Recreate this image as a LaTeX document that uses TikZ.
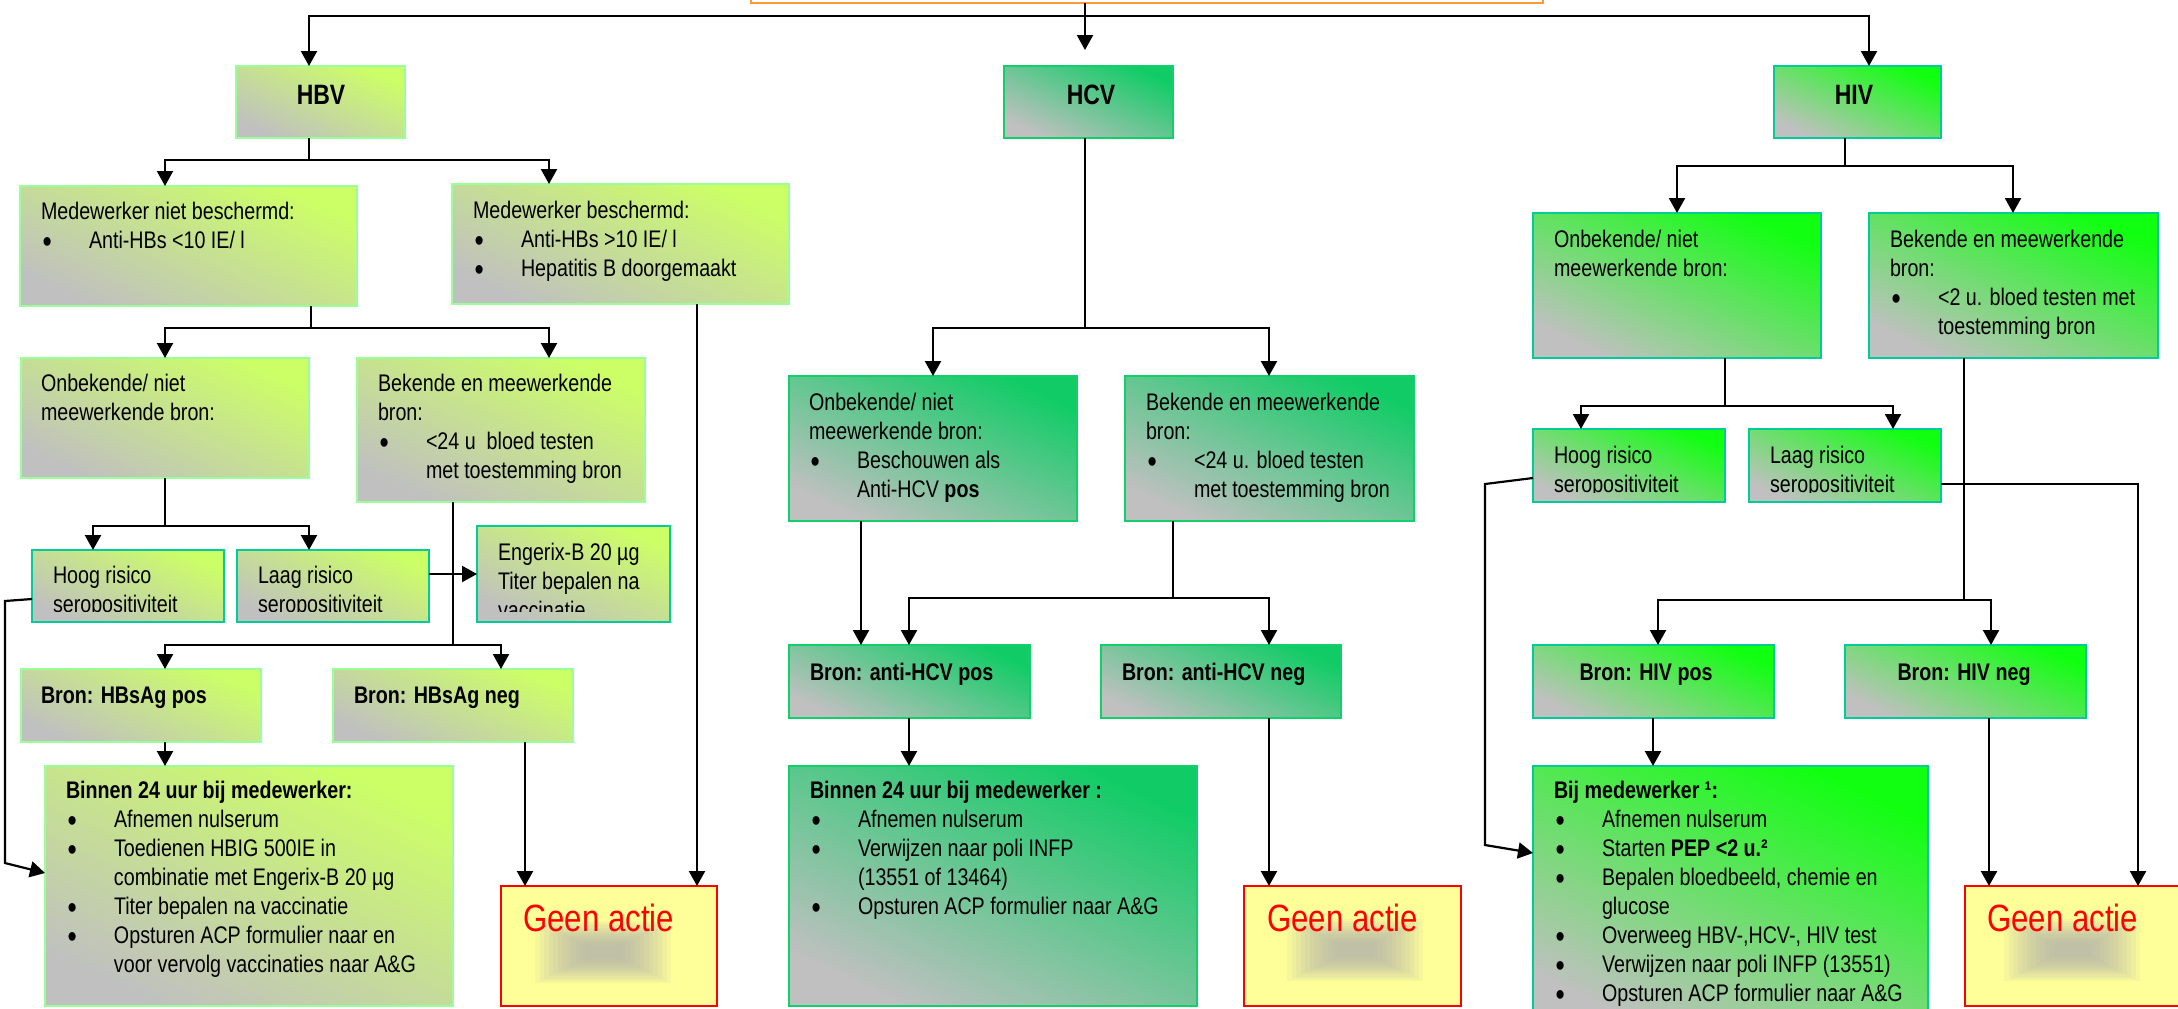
\documentclass[tikz,border=0pt]{standalone}
\usepackage{fontspec}
\setmainfont{Liberation Sans}[FakeStretch=0.82]
\usetikzlibrary{arrows.meta,fit}
\definecolor{silv}{HTML}{C0C0C0}
\definecolor{hbvc}{HTML}{CCFF66}
\definecolor{hbvb}{HTML}{99FF99}
\definecolor{tealb}{HTML}{00CC99}
\definecolor{hcvc}{HTML}{11CC66}
\definecolor{hcvb}{HTML}{11D06A}
\definecolor{hivc}{HTML}{11FF11}
\definecolor{gay}{HTML}{FFFF99}
\definecolor{gared}{HTML}{FF0000}
\definecolor{orangeb}{HTML}{FF9933}
\definecolor{blobc}{HTML}{B0B0B0}
\newcommand\fsA{\fontsize{12pt}{14.5pt}\selectfont}
\newcommand\fsT{\fontsize{14pt}{17pt}\selectfont\bfseries}
\newcommand\fsG{\fontsize{19pt}{22pt}\selectfont}
\newcommand\mystrut{\rule{0pt}{10pt}}
\newcommand\bul{\makebox[24pt][l]{\hspace{0.8pt}\raisebox{-2.1pt}[0pt][0pt]{\fontsize{16pt}{0pt}\selectfont\textbullet}}}
\newcommand\cind{\hspace*{24pt}}
\newcommand\blob[2]{%
  \foreach \i in {0,...,11}{%
    \fill[blobc, opacity=0.11] ({#1-68+4.5*\i},{#2-31+2.2*\i}) rectangle ({#1+68-4.5*\i},{#2+31-2.2*\i});}}
\begin{document}
\begin{tikzpicture}[x=0.5pt,y=-0.5pt,
  box/.style={draw, line width=1pt, inner sep=0pt, outer sep=0pt},
  hbvbox/.style={box, draw=hbvb, bottom color=silv, top color=hbvc, shading angle=-25},
  hbvtbox/.style={box, draw=tealb, bottom color=silv, top color=hbvc, shading angle=-25},
  hcvbox/.style={box, draw=hcvb, bottom color=silv, top color=hcvc, shading angle=-25},
  hivbox/.style={box, draw=tealb, bottom color=silv, top color=hivc, shading angle=-25},
  gabox/.style={box, draw=gared, fill=gay},
  txt/.style={anchor=north west, align=left, inner sep=0pt, outer sep=0pt, font=\fsA},
  ttl/.style={anchor=base, inner sep=0pt, font=\fsT},
  gtxt/.style={anchor=base west, inner sep=0pt, font=\fsG, text=gared},
  line/.style={line width=1.1pt},
  arr/.style={line width=1.1pt, -{Triangle[length=7.5pt,width=8pt]}}]
\useasboundingbox (0,0) rectangle (2178,1008);

% ---------- boxes ----------
\node[box, draw=orangeb, fill=white, fit={(751,-30) (1543,3)}] (topbox) {};

\node[hbvbox, fit={(236,66) (405,138)}] (hbv) {};
\node[hcvbox, fit={(1004,66) (1173,138)}] (hcv) {};
\node[hivbox, fit={(1774,66) (1941,138)}] (hiv) {};

\node[hbvbox, fit={(20,186) (357,306)}] (mnb) {};
\node[hbvbox, fit={(452,184) (789,304)}] (mb) {};
\node[hbvbox, fit={(21,358) (309,478)}] (onb1) {};
\node[hbvbox, fit={(357,358) (645,502)}] (bek1) {};
\node[hbvtbox, fit={(32,550) (224,622)}] (hoog1) {};
\node[hbvtbox, fit={(237,550) (429,622)}] (laag1) {};
\node[hbvtbox, fit={(477,526) (670,622)}] (eng) {};
\node[hbvbox, fit={(21,669) (261,742)}] (hbspos) {};
\node[hbvbox, fit={(333,669) (573,742)}] (hbsneg) {};
\node[hbvbox, fit={(45,766) (453,1006)}] (bin1) {};
\node[gabox, fit={(501,886) (717,1006)}] (ga1) {};

\node[hcvbox, fit={(789,376) (1077,521)}] (onb2) {};
\node[hcvbox, fit={(1125,376) (1414,521)}] (bek2) {};
\node[hcvbox, fit={(789,645) (1030,718)}] (hcvpos) {};
\node[hcvbox, fit={(1101,645) (1341,718)}] (hcvneg) {};
\node[hcvbox, fit={(789,766) (1197,1006)}] (bin2) {};
\node[gabox, fit={(1244,886) (1461,1006)}] (ga2) {};

\node[hivbox, fit={(1533,213) (1821,358)}] (onb3) {};
\node[hivbox, fit={(1869,213) (2158,358)}] (bek3) {};
\node[hivbox, fit={(1533,429) (1725,502)}] (hoog3) {};
\node[hivbox, fit={(1749,429) (1941,502)}] (laag3) {};
\node[hivbox, fit={(1533,645) (1774,718)}] (hivpos) {};
\node[hivbox, fit={(1845,645) (2086,718)}] (hivneg) {};
\node[hivbox, fit={(1533,766) (1928,1030)}] (bij) {};
\node[gabox, fit={(1965,886) (2182,1006)}] (ga3) {};

\blob{603}{952}
\blob{1355}{950}
\blob{2072}{950}

% ---------- texts ----------
\node[ttl] (hbvt) at (321,104) {HBV};
\node[ttl] (hcvt) at (1091,104) {HCV};
\node[ttl] (hivt) at (1854,104) {HIV};

\node[txt] (mnbt) at (41,199) {\mystrut Medewerker niet beschermd:\\ \bul Anti-HBs <10 IE/ l};
\node[txt] (mbt) at (473,198) {\mystrut Medewerker beschermd:\\ \bul Anti-HBs >10 IE/ l\\ \bul Hepatitis B doorgemaakt};
\node[txt] (onb1t) at (41,371) {\mystrut Onbekende/ niet\\ meewerkende bron:};
\node[txt] (bek1t) at (378,371) {\mystrut Bekende en meewerkende\\ bron:\\ \bul <24 u\ \ bloed testen\\ \cind met toestemming bron};
\begin{scope}
\clip (32,550) rectangle (429,611);
\node[txt] (hoog1t) at (53,563) {\mystrut Hoog risico\\ seropositiviteit};
\node[txt] (laag1t) at (258,563) {\mystrut Laag risico\\ seropositiviteit};
\end{scope}
\begin{scope}
\clip (477,526) rectangle (670,611);
\node[txt] (engt) at (498,540) {\mystrut Engerix-B 20 µg\\ Titer bepalen na\\ vaccinatie};
\end{scope}
\node[txt, font=\fsA\bfseries] (hbspost) at (41,683) {\mystrut Bron: HBsAg pos};
\node[txt, font=\fsA\bfseries] (hbsnegt) at (354,683) {\mystrut Bron: HBsAg neg};
\node[txt] (bin1t) at (66,778) {\mystrut\textbf{Binnen 24 uur bij medewerker:}\\ \bul Afnemen nulserum\\ \bul Toedienen HBIG 500IE in\\ \cind combinatie met Engerix-B 20 µg\\ \bul Titer bepalen na vaccinatie\\ \bul Opsturen ACP formulier naar en\\ \cind voor vervolg vaccinaties naar A\&G};

\node[txt] (onb2t) at (809,390) {\mystrut Onbekende/ niet\\ meewerkende bron:\\ \bul Beschouwen als\\ \cind Anti-HCV \textbf{pos}};
\node[txt] (bek2t) at (1146,390) {\mystrut Bekende en meewerkende\\ bron:\\ \bul <24 u. bloed testen\\ \cind met toestemming bron};
\node[txt, font=\fsA\bfseries] (hcvpost) at (810,660) {\mystrut Bron: anti-HCV pos};
\node[txt, font=\fsA\bfseries] (hcvnegt) at (1122,660) {\mystrut Bron: anti-HCV neg};
\node[txt] (bin2t) at (810,778) {\mystrut\textbf{Binnen 24 uur bij medewerker :}\\ \bul Afnemen nulserum\\ \bul Verwijzen naar poli INFP\\ \cind (13551 of 13464)\\ \bul Opsturen ACP formulier naar A\&G};

\node[txt] (onb3t) at (1554,227) {\mystrut Onbekende/ niet\\ meewerkende bron:};
\node[txt] (bek3t) at (1890,227) {\mystrut Bekende en meewerkende\\ bron:\\ \bul <2 u. bloed testen met\\ \cind toestemming bron};
\begin{scope}
\clip (1533,429) rectangle (1941,492);
\node[txt] (hoog3t) at (1554,443) {\mystrut Hoog risico\\ seropositiviteit};
\node[txt] (laag3t) at (1770,443) {\mystrut Laag risico\\ seropositiviteit};
\end{scope}
\node[anchor=base, inner sep=0pt, font=\fsA\bfseries] (hivpost) at (1646,680) {Bron: HIV pos};
\node[anchor=base, inner sep=0pt, font=\fsA\bfseries] (hivnegt) at (1964,680) {Bron: HIV neg};
\node[txt] (bijt) at (1554,778) {\mystrut\textbf{Bij medewerker ¹:}\\ \bul Afnemen nulserum\\ \bul Starten \textbf{PEP <2 u.²}\\ \bul Bepalen bloedbeeld, chemie en\\ \cind glucose\\ \bul Overweeg HBV-,HCV-, HIV test\\ \bul Verwijzen naar poli INFP (13551)\\ \bul Opsturen ACP formulier naar A\&G};

\node[gtxt] (ga1t) at (523,931) {Geen actie};
\node[gtxt] (ga2t) at (1267,931) {Geen actie};
\node[gtxt] (ga3t) at (1987,931) {Geen actie};

% ---------- connectors ----------
\coordinate (j0) at (1085,16);
\draw[line] (topbox.south -| j0) -- (j0);
\draw[arr, shorten >=8pt] (j0) -- (hcv.north -| j0);
\draw[arr] (j0) -| (hbv.north -| 309,0);
\draw[arr] (j0) -| (hiv.north -| 1869,0);

% HBV
\coordinate (j1) at (309,160);
\draw[line] (hbv.south -| j1) -- (j1);
\draw[arr] (j1) -| (mnb.north -| 165,0);
\draw[arr] (j1) -| (mb.north -| 549,0);
\coordinate (j2) at (311,328);
\draw[line] (mnb.south -| j2) -- (j2);
\draw[arr] (j2) -| (onb1.north -| 165,0);
\draw[arr] (j2) -| (bek1.north -| 549,0);
\coordinate (j3) at (165,526);
\draw[line] (onb1.south -| j3) -- (j3);
\draw[arr] (j3) -| (hoog1.north -| 93,0);
\draw[arr] (j3) -| (laag1.north -| 309,0);
\draw[arr] (laag1.east |- 0,574) -- (eng.west |- 0,574);
\coordinate (j4) at (453,645);
\draw[line] (bek1.south -| j4) -- (j4);
\draw[arr] (j4) -| (hbspos.north -| 165,0);
\draw[arr] (j4) -| (hbsneg.north -| 501,0);
\draw[arr] (hbspos.south -| 165,0) -- (bin1.north -| 165,0);
\draw[arr] (hbsneg.south -| 525,0) -- (ga1.north -| 525,0);
\draw[arr] (mb.south -| 697,0) -- (ga1.north -| 697,0);
\coordinate (k1) at (5,601);
\coordinate (k2) at (5,863);
\draw[arr] (hoog1.west |- 0,599) -- (k1) -- (k2) -- (bin1.west |- 0,873);

% HCV
\coordinate (j5) at (1085,328);
\draw[line] (hcv.south -| j5) -- (j5);
\draw[arr] (j5) -| (onb2.north -| 933,0);
\draw[arr] (j5) -| (bek2.north -| 1269,0);
\draw[arr] (onb2.south -| 861,0) -- (hcvpos.north -| 861,0);
\coordinate (j6) at (1173,598);
\draw[line] (bek2.south -| j6) -- (j6);
\draw[arr] (j6) -| (hcvpos.north -| 909,0);
\draw[arr] (j6) -| (hcvneg.north -| 1269,0);
\draw[arr] (hcvpos.south -| 909,0) -- (bin2.north -| 909,0);
\draw[arr] (hcvneg.south -| 1269,0) -- (ga2.north -| 1269,0);

% HIV
\coordinate (j7) at (1845,166);
\draw[line] (hiv.south -| j7) -- (j7);
\draw[arr] (j7) -| (onb3.north -| 1677,0);
\draw[arr] (j7) -| (bek3.north -| 2013,0);
\coordinate (j8) at (1725,406);
\draw[line] (onb3.south -| j8) -- (j8);
\draw[arr] (j8) -| (hoog3.north -| 1581,0);
\draw[arr] (j8) -| (laag3.north -| 1893,0);
\coordinate (j9) at (1964,600);
\draw[line] (bek3.south -| j9) -- (j9);
\draw[arr] (j9) -| (hivpos.north -| 1658,0);
\draw[arr] (j9) -| (hivneg.north -| 1991,0);
\draw[arr] (laag3.east |- 0,484) -| (ga3.north -| 2138,0);
\coordinate (k3) at (1485,484);
\coordinate (k4) at (1485,845);
\draw[arr] (hoog3.west |- 0,478) -- (k3) -- (k4) -- (bij.west |- 0,853);
\draw[arr] (hivpos.south -| 1653,0) -- (bij.north -| 1653,0);
\draw[arr] (hivneg.south -| 1989,0) -- (ga3.north -| 1989,0);
\end{tikzpicture}
\end{document}
